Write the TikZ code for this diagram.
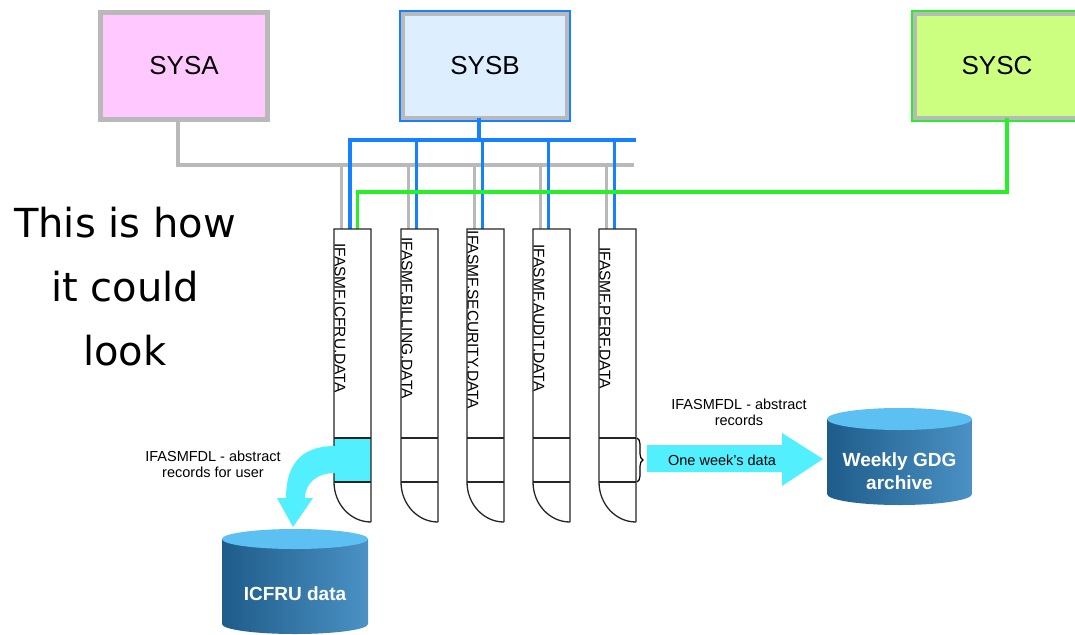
\documentclass[tikz,border=0pt]{standalone}
\usepackage{fontspec}
\setmainfont{Liberation Sans}
\newfontfamily\comicfont{DejaVu Sans}
\usetikzlibrary{decorations.pathreplacing}
\definecolor{pinkfill}{RGB}{255,200,255}
\definecolor{boxgray}{RGB}{185,185,185}
\definecolor{sysbfill}{RGB}{220,238,255}
\definecolor{sysblue}{RGB}{20,130,255}
\definecolor{syscfill}{RGB}{204,255,128}
\definecolor{sysgreen}{RGB}{40,240,40}
\definecolor{cyanar}{RGB}{82,240,255}
\definecolor{cyldark}{RGB}{30,92,138}
\definecolor{cylmid}{RGB}{45,110,160}
\definecolor{cylmidb}{RGB}{70,140,190}
\definecolor{cyllight}{RGB}{105,175,225}
\definecolor{cyltop}{RGB}{92,192,242}
\pgfdeclarehorizontalshading{cylshade}{100bp}{color(0bp)=(cylmid); color(25bp)=(cyldark); color(70bp)=(cylmidb); color(100bp)=(cyllight)}
\begin{document}
\begin{tikzpicture}[x=1pt,y=-1pt,
  sysbox/.style={draw=boxgray, line width=4.5pt, outer sep=0pt, minimum width=167pt, minimum height=107pt, inner sep=0pt, font=\fontsize{26}{30}\selectfont},
  graybus/.style={draw=boxgray, line width=3.2pt},
  bluebus/.style={draw=sysblue, line width=3.2pt},
  greenbus/.style={draw=sysgreen, line width=3.2pt},
  dsline/.style={draw=black!85, line width=1.3pt},
  dstext/.style={rotate=-90, inner sep=0pt, font=\fontsize{15.5}{15.5}\selectfont},
  lbl/.style={align=center, inner sep=0pt, font=\fontsize{14.5}{16}\selectfont},
  cyltext/.style={align=center, inner sep=0pt, text=white, font=\bfseries\fontsize{19}{23}\selectfont}
]
\clip (0,0) rectangle (1075,634);
\fill[white] (0,0) rectangle (1075,634);

% systems
\node[sysbox, fill=pinkfill] (sysa) at (184,66) {SYSA};
\node[sysbox, fill=sysbfill, minimum width=164pt, minimum height=104pt] (sysb) at (485,66) {SYSB};
\draw[sysblue, line width=2pt] ([shift={(-3.2,-3.2)}]sysb.north west) rectangle ([shift={(3.2,3.2)}]sysb.south east);
\node[sysbox, fill=syscfill, minimum width=164pt, minimum height=104pt] (sysc) at (997,66) {SYSC};
\draw[sysgreen, line width=2pt] ([shift={(-3.2,-3.2)}]sysc.north west) rectangle ([shift={(3.2,3.2)}]sysc.south east);

% column anchors (top-left corners of the data sets)
\foreach \i/\L in {1/334,2/401,3/467,4/533,5/599}{
  \coordinate (col\i) at (\L,229);
}
\coordinate (grayend) at (634,165);
\coordinate (blueend) at (636,140);
\coordinate (greenlvl) at (700,192);

% gray bus from SYSA
\draw[graybus] ([xshift=-6pt]sysa.south) |- (grayend);
\foreach \i in {1,...,5}{
  \draw[graybus] ([xshift=7.5pt]col\i) -- ([xshift=7.5pt]col\i |- grayend);
}
% blue bus from SYSB
\draw[bluebus] ([xshift=-6pt]sysb.south) -- ([xshift=-6pt]sysb.south |- blueend);
\draw[bluebus] ([xshift=16pt]col1) |- (blueend);
\foreach \i in {2,...,5}{
  \draw[bluebus] ([xshift=15.5pt]col\i) -- ([xshift=15.5pt]col\i |- blueend);
}
% green line from SYSC
\draw[greenbus] ([xshift=10pt]sysc.south) |- (greenlvl) -| ([xshift=23.5pt]col1);

% data sets
\fill[cyanar] (334,438) rectangle (371,482);
\foreach \i/\L in {1/334,2/401,3/467,4/533,5/599}{
  \draw[dsline] (\L+37,522) -- (\L+37,229) -- (\L,229) -- (\L,482)
     arc[start angle=180,end angle=270,x radius=37pt,y radius=40pt];
  \draw[dsline] (\L,438) -- (\L+37,438) (\L,482) -- (\L+37,482);
}
\node[dstext] (ds1) at (340,318) {IFASMF.ICFRU.DATA};
\node[dstext] (ds2) at (407,318) {IFASMF.BILLING.DATA};
\node[dstext] (ds3) at (473,320) {IFASMF.SECURITY.DATA};
\node[dstext] (ds4) at (539,318) {IFASMF.AUDIT.DATA};
\node[dstext] (ds5) at (605,318) {IFASMF.PERF.DATA};

% brace
\draw[decorate, decoration={brace, amplitude=6pt}, line width=1.2pt] (637,438) -- (637,482);

% big right arrow
\fill[cyanar] (647,445) -- (782,445) -- (782,433) -- (823,459) -- (782,486) -- (782,472) -- (647,472) -- cycle;
\node[lbl] (week) at (722,460) {One week's data};
\node[lbl] (abs2) at (739,412) {IFASMFDL - abstract\\records};

% weekly archive cylinder
\shade[shading=cylshade] (827,419) -- (827,494) arc[start angle=180,end angle=360,x radius=72.5pt,y radius=11pt] -- (972,419) -- cycle;
\fill[cyltop] (899.5,419) ellipse [x radius=72.5pt, y radius=11pt];
\node[cyltext] (weekly) at (899.5,471) {Weekly GDG\\archive};

% ICFRU cylinder
\shade[shading=cylshade] (222,539) -- (222,624) arc[start angle=180,end angle=360,x radius=73pt,y radius=10pt] -- (368,539) -- cycle;
\fill[cyltop] (295,539) ellipse [x radius=73pt, y radius=10pt];
\node[cyltext] (icfru) at (295,594) {ICFRU data};

% curved arrow to ICFRU
\fill[cyanar] (335,446) .. controls (298,446) and (286,468) .. (286,498)
  -- (277,498) -- (293,527) -- (313,498) -- (305,498)
  .. controls (305,484) and (316,473) .. (335,473) -- cycle;
\node[lbl] (abs1) at (213,464) {IFASMFDL - abstract\\records for user};

% hint text
\node[align=center, inner sep=0pt, font=\comicfont\fontsize{40}{64}\selectfont] (hint) at (125,287) {This is how\\it could\\look};
\end{tikzpicture}
\end{document}
